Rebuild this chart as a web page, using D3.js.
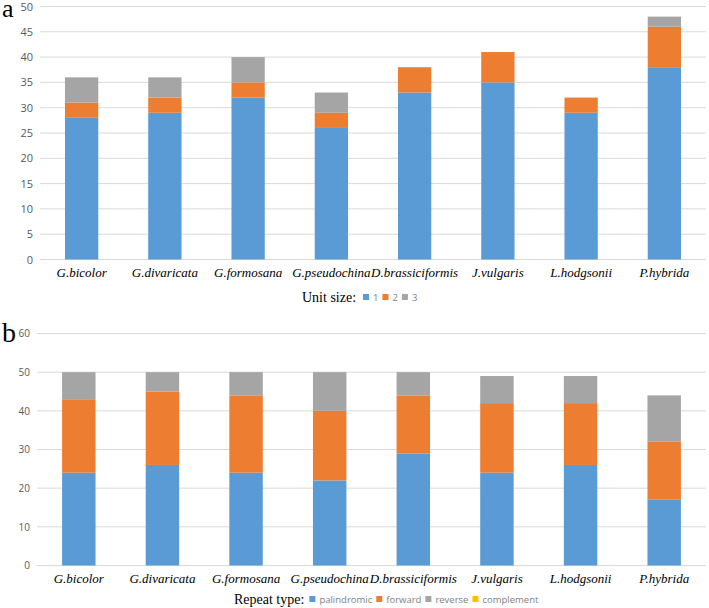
<!DOCTYPE html>
<html>
<head>
<meta charset="utf-8">
<script src="https://d3js.org/d3.v7.min.js"></script>
<style>
  body { margin: 0; background: #fff; }
  svg { display: block; }
</style>
</head>
<body>
<div id="chart"></div>
<script>
// species along the x axis (same for both panels)
const species = ["G.bicolor", "G.divaricata", "G.formosana", "G.pseudochina",
  "D.brassiciformis", "J.vulgaris", "L.hodgsonii", "P.hybrida"];

// panel a: SSR unit size
const unitKeys = ["1", "2", "3"];
const unit1 = [28, 29, 32, 26, 33, 35, 29, 38];
const unit2 = [3, 3, 3, 3, 5, 6, 3, 8];
const unit3 = [5, 4, 5, 4, 0, 0, 0, 2];
const ticksA = [0, 5, 10, 15, 20, 25, 30, 35, 40, 45, 50];

// panel b: repeat type
const repeatKeys = ["palindromic", "forward", "reverse", "complement"];
const palindromic = [24, 26, 24, 22, 29, 24, 26, 17];
const forward = [19, 19, 20, 18, 15, 18, 16, 15];
const reverse = [7, 5, 6, 10, 6, 7, 7, 12];
const complement = [0, 0, 0, 0, 0, 0, 0, 0];
const ticksB = [0, 10, 20, 30, 40, 50, 60];

const colors = ["#5B9BD5", "#ED7D31", "#A5A5A5", "#FFC000"];

const svg = d3.select("#chart").append("svg")
  .attr("width", 709).attr("height", 608);

function panel(opts) {
  const rows = species.map((s, i) => {
    const r = { name: s };
    opts.keys.forEach((k, j) => r[k] = opts.series[j][i]);
    return r;
  });
  const stack = d3.stack().keys(opts.keys)(rows);

  const x = d3.scaleBand().domain(species)
    .range([opts.x0, opts.x1]).paddingInner(0.6).paddingOuter(0.3);
  const y = d3.scaleLinear().domain([0, opts.max]).range([opts.y0, opts.y1]);

  const g = svg.append("g");

  // gridlines
  g.selectAll(".grid").data(opts.ticks).join("line")
    .attr("x1", opts.x0).attr("x2", opts.x1)
    .attr("y1", d => y(d)).attr("y2", d => y(d))
    .attr("stroke", "#d9d9d9").attr("stroke-width", 1);

  // y axis labels
  const yAxis = d3.axisLeft(y).tickValues(opts.ticks).tickSize(0).tickPadding(7);
  const ya = g.append("g").attr("transform", `translate(${opts.x0},0)`).call(yAxis);
  ya.select(".domain").remove();
  ya.selectAll("text").attr("fill", "#595959")
    .style("font-family", "'Open Sans', sans-serif").style("font-size", opts.tickFont);

  // bars
  g.selectAll(".layer").data(stack).join("g")
    .attr("fill", (d, i) => colors[i])
    .selectAll("rect").data(d => d).join("rect")
    .attr("x", d => x(d.data.name))
    .attr("width", x.bandwidth())
    .attr("y", d => y(d[1]))
    .attr("height", d => y(d[0]) - y(d[1]));

  // x axis labels
  const xAxis = d3.axisBottom(x).tickSize(0).tickPadding(8);
  const xa = g.append("g").attr("transform", `translate(0,${opts.y0})`).call(xAxis);
  xa.select(".domain").remove();
  xa.selectAll("text").attr("fill", "#000")
    .style("font-family", "'Liberation Serif', 'Times New Roman', serif")
    .style("font-style", "italic").style("font-size", "13px");

  // panel letter
  g.append("text").attr("x", 2).attr("y", opts.letterY)
    .style("font-family", "'Liberation Serif', serif").style("font-size", opts.letterFont)
    .text(opts.letter);

  // legend
  const lg = g.append("g").attr("transform", `translate(0,${opts.legY})`);
  const title = lg.append("text").attr("x", opts.legX).attr("y", 5)
    .style("font-family", "'Liberation Serif', serif").style("font-size", "14px")
    .text(opts.legTitle);
  let cx = opts.legX + title.node().getComputedTextLength() + opts.titleGap;
  opts.keys.forEach((k, i) => {
    lg.append("rect").attr("x", cx).attr("y", -3).attr("width", 6).attr("height", 6)
      .attr("fill", colors[i]);
    const t = lg.append("text").attr("x", cx + 10).attr("y", 3.5)
      .attr("fill", "#7f7f7f")
      .style("font-family", "'Open Sans', sans-serif").style("font-size", "9.5px")
      .text(k);
    cx += 10 + t.node().getComputedTextLength() + 4;
  });
}

panel({
  keys: unitKeys, series: [unit1, unit2, unit3], ticks: ticksA, max: 50,
  x0: 40, x1: 706, y0: 259.5, y1: 6.5, tickFont: "11px",
  letter: "a", letterY: 17, letterFont: "26px",
  legTitle: "Unit size:", legX: 302, titleGap: 7, legY: 297
});

panel({
  keys: repeatKeys, series: [palindromic, forward, reverse, complement], ticks: ticksB, max: 60,
  x0: 37, x1: 706, y0: 565.5, y1: 333.5, tickFont: "10px",
  letter: "b", letterY: 342, letterFont: "28px",
  legTitle: "Repeat type:", legX: 234, titleGap: 5, legY: 599
});
</script>
</body>
</html>
